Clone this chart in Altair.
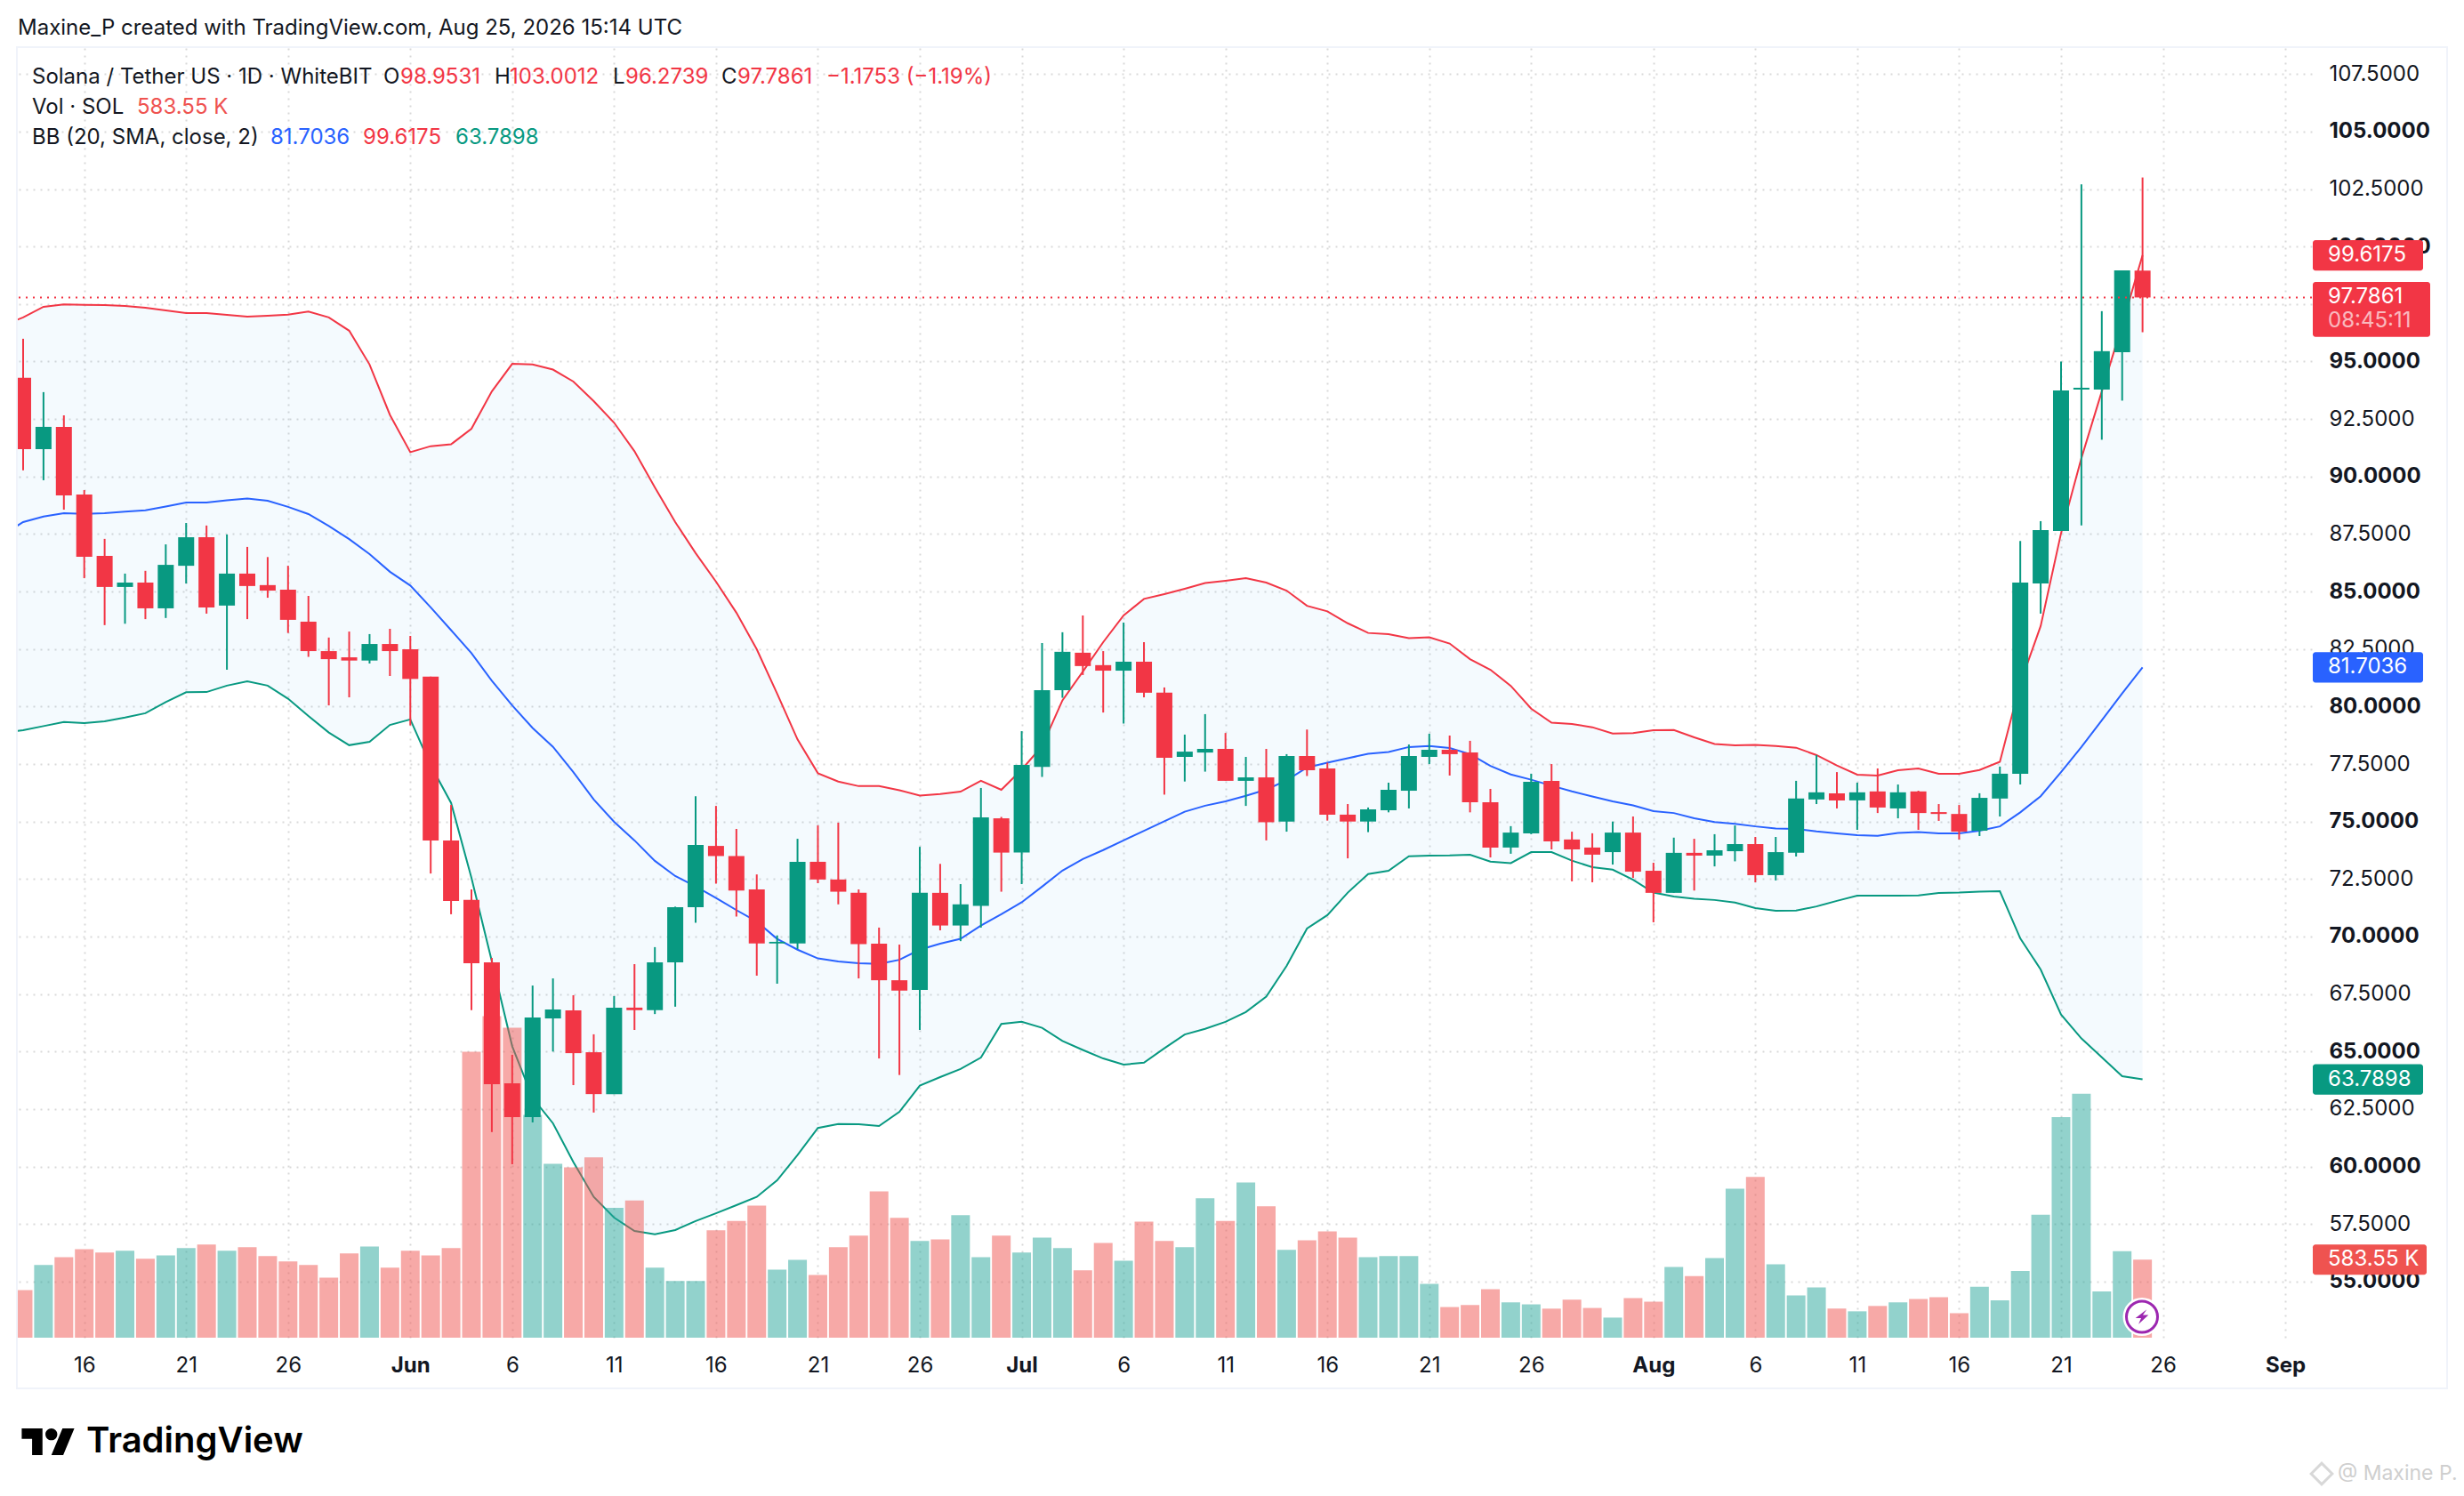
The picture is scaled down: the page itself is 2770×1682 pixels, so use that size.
import altair as alt
import pandas as pd

opens = [94.29,91.19,92.16,89.22,86.55,85.20,85.39,84.27,86.12,87.36,84.39,85.78,85.28,85.08,83.69,82.41,82.14,82.00,82.72,82.49,
81.30,74.18,71.59,68.88,63.62,62.15,66.44,66.79,64.97,63.15,66.91,66.80,68.88,71.28,73.94,73.50,72.05,69.70,69.70,73.25,
72.48,71.90,69.69,68.10,67.68,71.90,70.48,71.33,75.14,73.65,77.38,80.71,82.34,81.80,81.56,81.95,80.60,77.81,78.00,78.16,
76.77,76.92,75.00,77.85,77.31,75.30,75.00,75.49,76.34,77.81,78.12,78.00,75.84,73.87,74.49,76.77,74.22,73.87,73.67,74.52,
72.86,71.90,73.64,73.52,73.71,74.02,72.67,73.64,75.96,76.23,75.92,76.31,75.57,76.31,75.41,75.33,74.60,76.00,77.08,85.35,
87.63,93.78,93.78,95.41,98.9531]
closes = [91.19,92.16,89.18,86.51,85.20,85.39,84.27,86.16,87.36,84.31,85.78,85.24,85.04,83.77,82.41,82.06,82.00,82.72,82.41,81.20,
74.18,71.55,68.84,63.58,62.15,66.48,66.83,64.93,63.15,66.91,66.80,68.88,71.28,73.98,73.50,72.00,69.70,69.77,73.25,72.48,
71.95,69.67,68.10,67.65,71.90,70.48,71.40,75.18,73.65,77.46,80.71,82.38,81.76,81.56,81.95,80.60,77.77,78.04,78.16,76.77,
76.92,74.97,77.85,77.23,75.30,75.00,75.53,76.38,77.85,78.12,77.93,75.84,73.87,74.52,76.73,74.14,73.79,73.56,74.52,72.82,
71.90,73.64,73.52,73.75,74.02,72.67,73.67,76.00,76.27,75.92,76.27,75.61,76.27,75.37,75.33,74.56,76.03,77.08,85.39,87.67,
93.74,93.86,95.45,98.96,97.7861]
highs = [95.99,93.67,92.66,89.41,87.29,85.78,85.90,87.05,87.98,87.87,87.48,86.94,86.50,86.12,84.81,83.00,83.26,83.15,83.38,83.07,
81.30,75.72,72.05,69.07,64.86,67.87,68.18,67.45,65.75,67.41,68.80,69.54,71.30,76.10,75.68,74.68,72.70,70.05,74.25,74.83,
74.95,72.05,70.39,69.65,73.90,73.16,72.28,76.46,75.20,78.93,82.76,83.23,83.96,82.41,83.65,82.80,80.83,78.78,79.67,78.85,
77.81,78.16,77.93,79.00,77.56,75.76,75.61,76.69,78.35,78.82,78.74,78.51,76.42,74.80,77.08,77.50,74.56,74.49,75.00,75.22,
73.21,74.30,74.25,74.45,74.83,74.33,74.33,76.77,77.89,77.15,76.69,77.31,76.61,76.34,75.76,75.72,76.23,77.39,87.20,88.06,
95.00,102.70,97.19,98.96,103.0012]
lows = [90.27,89.84,88.56,85.58,83.54,83.60,83.80,83.85,85.35,84.04,81.60,83.80,84.73,83.20,82.16,80.05,80.40,81.87,81.33,79.18,
72.74,70.97,66.80,61.50,60.10,61.92,65.00,63.54,62.35,63.15,65.94,66.63,66.95,70.60,72.30,70.87,68.30,67.95,69.46,72.32,
71.40,68.18,64.70,63.98,65.94,70.27,69.80,70.39,71.95,72.28,76.94,80.38,81.37,79.74,79.26,80.40,76.17,76.74,77.17,76.77,
75.68,74.18,74.56,76.98,75.04,73.40,74.54,75.40,75.57,77.50,77.00,75.40,73.44,73.60,74.45,73.79,72.40,72.36,73.13,72.55,
70.62,71.90,72.00,73.05,73.27,72.36,72.44,73.48,75.76,75.57,74.64,75.37,75.14,74.64,75.03,74.22,74.37,75.22,76.61,84.04,
87.63,87.87,91.60,93.30,96.2739]
volumes = [355,543,602,661,636,649,590,614,669,696,649,676,609,570,543,449,629,681,523,649,
614,669,2136,2403,2317,1665,1300,1273,1347,970,1026,523,424,424,802,873,987,508,582,469,
676,762,1093,896,723,735,915,602,762,636,747,669,503,708,575,868,723,676,1041,873,
1159,982,656,728,794,747,602,609,609,402,229,244,363,264,249,217,284,222,150,296,
269,528,461,595,1113,1201,548,316,375,217,197,237,264,289,303,183,380,279,498,919,
1648,1822,346,646,583.55]

# Bollinger bands; the first value belongs to the day before the first candle, just off the left edge
bb_upper = [96.56,96.92,97.38,97.48,97.46,97.45,97.42,97.34,97.22,97.11,97.11,97.03,96.95,96.99,97.04,97.17,96.92,96.34,94.87,92.68,91.06,
91.32,91.40,92.08,93.70,94.90,94.87,94.65,94.13,93.28,92.34,91.10,89.53,88.02,86.67,85.43,84.08,82.49,80.56,78.57,77.10,
76.74,76.54,76.54,76.36,76.13,76.20,76.30,76.77,76.38,77.26,78.28,80.27,81.52,82.80,83.96,84.68,84.89,85.12,85.37,85.47,
85.58,85.39,85.04,84.38,84.14,83.62,83.20,83.15,82.97,83.01,82.74,82.06,81.60,80.90,79.91,79.30,79.24,79.10,78.83,78.85,
78.97,78.98,78.66,78.37,78.31,78.33,78.28,78.21,77.89,77.44,77.04,77.00,77.23,77.31,77.08,77.08,77.24,77.60,81.00,83.50,
87.53,90.80,93.70,96.60,99.6175]
bb_middle = [87.47,88.02,88.26,88.41,88.38,88.41,88.47,88.53,88.70,88.87,88.87,88.97,89.04,88.95,88.68,88.37,87.85,87.28,86.63,85.86,85.26,
84.31,83.32,82.32,81.12,80.05,79.07,78.25,77.15,75.96,74.99,74.18,73.29,72.63,72.18,71.68,71.15,70.65,69.90,69.43,69.05,
68.92,68.84,68.81,68.99,69.43,69.69,69.90,70.48,70.97,71.49,72.17,72.87,73.37,73.76,74.18,74.60,75.01,75.43,75.69,75.88,
76.12,76.39,76.79,77.35,77.56,77.75,77.95,78.02,78.24,78.28,78.20,77.93,77.42,77.05,76.82,76.56,76.31,76.09,75.88,75.70,
75.45,75.37,75.14,74.98,74.90,74.79,74.70,74.68,74.57,74.49,74.41,74.38,74.50,74.54,74.49,74.49,74.60,74.79,75.40,76.10,
77.15,78.24,79.40,80.57,81.7036]
bb_lower = [78.87,78.97,79.15,79.33,79.28,79.36,79.52,79.71,80.19,80.62,80.63,80.91,81.10,80.91,80.34,79.59,78.87,78.32,78.47,79.20,79.44,
77.44,75.81,72.55,68.93,65.23,62.99,61.88,60.20,58.68,57.78,57.20,57.06,57.24,57.63,57.97,58.32,58.68,59.40,60.50,61.68,
61.85,61.84,61.76,62.38,63.52,63.89,64.24,64.74,66.20,66.30,66.03,65.46,65.07,64.70,64.43,64.52,65.14,65.74,65.99,66.29,
66.72,67.39,68.72,70.35,70.93,71.91,72.72,72.86,73.49,73.52,73.53,73.56,73.26,73.19,73.67,73.67,73.30,73.02,72.91,72.47,
71.91,71.74,71.64,71.59,71.48,71.24,71.12,71.13,71.31,71.55,71.78,71.78,71.78,71.79,71.89,71.91,71.95,71.97,69.92,68.57,
66.61,65.57,64.75,63.93,63.7898]

price_ticks = [55,57.5,60,62.5,65,67.5,70,72.5,75,77.5,80,82.5,85,87.5,90,92.5,95,97.5,100,102.5,105,107.5]
date_ticks = ["2026-05-16","2026-05-21","2026-05-26","2026-06-01","2026-06-06","2026-06-11","2026-06-16","2026-06-21","2026-06-26",
              "2026-07-01","2026-07-06","2026-07-11","2026-07-16","2026-07-21","2026-07-26","2026-08-01","2026-08-06","2026-08-11",
              "2026-08-16","2026-08-21","2026-08-26","2026-09-01"]

RED, GREEN, BLUE, VOLRED, VOLGREEN = "#f23645", "#089981", "#2962ff", "#ef5350", "#26a69a"
INK, FONT = "#131722", "Inter"
GRID = "#d9d9d9"
W, H = 2579, 1450
PRICE_DOMAIN = [52.56, 108.63]
VOL_DOMAIN = [0, 9637]
X_DOMAIN = ["2026-05-12T17:44:00Z", "2026-09-02T07:26:00Z"]

days = pd.date_range("2026-05-12", periods=106).strftime("%Y-%m-%d").tolist()
candles = pd.DataFrame({"date": days[1:], "open": opens, "close": closes, "high": highs, "low": lows, "vol": volumes})
candles["dir"] = ["up" if c >= o else "down" for o, c in zip(opens, closes)]
bands = pd.DataFrame({"date": days, "upper": bb_upper, "middle": bb_middle, "lower": bb_lower})

x_axis = alt.Axis(values=date_ticks, title=None, domain=False, ticks=False, grid=True, gridColor=GRID, gridDash=[2, 6], gridWidth=2,
                  labelFont=FONT, labelFontSize=24, labelColor=INK, labelPadding=19, labelOverlap=False, labelFlush=False,
                  labelExpr="utcdate(datum.value) == 1 ? utcFormat(datum.value, '%b') : utcFormat(datum.value, '%-d')",
                  labelFontWeight={"condition": {"test": "utcdate(datum.value) == 1", "value": 700}, "value": 400})
y_axis = alt.Axis(values=price_ticks, title=None, orient="right", domain=False, ticks=False, grid=True, gridColor=GRID, gridDash=[2, 6], gridWidth=2,
                  labelFont=FONT, labelFontSize=24, labelColor=INK, labelPadding=19, labelAlign="left", labelOverlap=False, labelFlush=False,
                  labelExpr="format(datum.value, '.4f')",
                  labelFontWeight={"condition": {"test": "datum.value % 5 === 0", "value": 700}, "value": 400})
xs = alt.X("date:T", scale=alt.Scale(type="utc", domain=X_DOMAIN, padding=0), axis=x_axis)


def py(field, axis=None):
    return alt.Y(f"{field}:Q", scale=alt.Scale(domain=PRICE_DOMAIN, nice=False, zero=False, padding=0), axis=axis)


band = alt.Chart(bands).mark_area(color="#2196f3", opacity=0.05, clip=True).encode(x=xs, y=py("upper", y_axis), y2="lower:Q")
lines = [alt.Chart(bands).mark_line(color=c, strokeWidth=2, clip=True).encode(x=xs, y=py(f))
         for f, c in (("upper", RED), ("middle", BLUE), ("lower", GREEN))]

vol = alt.Chart(candles).mark_bar(width=21, opacity=0.5, clip=True).encode(
    x=xs,
    y=alt.Y("vol:Q", scale=alt.Scale(domain=VOL_DOMAIN, nice=False, padding=0), axis=None),
    color=alt.Color("dir:N", scale=alt.Scale(domain=["up", "down"], range=[VOLGREEN, VOLRED]), legend=None))
candle_color = alt.Color("dir:N", scale=alt.Scale(domain=["up", "down"], range=[GREEN, RED]), legend=None)
wicks = alt.Chart(candles).mark_rule(strokeWidth=2, clip=True).encode(x=xs, y=py("low"), y2="high:Q", color=candle_color)
bodies = alt.Chart(candles).mark_bar(width=18, clip=True).encode(x=xs, y=py("open"), y2="close:Q", color=candle_color)

last_line = alt.Chart(pd.DataFrame({"p": [closes[-1]]})).mark_rule(color=RED, strokeWidth=2, strokeDash=[2, 6]).encode(y=py("p"))

one = pd.DataFrame({"a": [0]})
border = alt.Chart(one).mark_rect(fillOpacity=0, stroke="#f0f3fa", strokeWidth=2).encode(
    x=alt.value(-1), x2=alt.value(2731), y=alt.value(-1), y2=alt.value(1507))


def label(text, px, py_, color=INK, size=24, weight=400, opacity=1):
    return alt.Chart(pd.DataFrame({"t": [text]})).mark_text(
        align="left", baseline="middle", font=FONT, fontSize=size, fontWeight=weight, color=color, opacity=opacity
    ).encode(text="t:N", x=alt.value(px - 20), y=alt.value(py_ - 54))


header_texts = [
    ("Maxine_P created with TradingView.com, Aug 25, 2026 15:14 UTC", 20, 32, INK),
    ("Solana / Tether US · 1D · WhiteBIT", 36, 87, INK),
    ("O", 431, 87, INK), ("98.9531", 450, 87, RED),
    ("H", 556, 87, INK), ("103.0012", 573, 87, RED),
    ("L", 689, 87, INK), ("96.2739", 703, 87, RED),
    ("C", 811, 87, INK), ("97.7861", 829, 87, RED),
    ("−1.1753 (−1.19%)", 929, 87, RED),
    ("Vol · SOL", 36, 121, INK), ("583.55 K", 154, 121, VOLRED),
    ("BB (20, SMA, close, 2)", 36, 155, INK),
    ("81.7036", 304, 155, BLUE), ("99.6175", 408, 155, RED), ("63.7898", 512, 155, GREEN),
]
texts = [label(t, x, y, c) for t, x, y, c in header_texts]

# price tags on the right-hand axis
tag_values = [99.6175, 81.7036, 63.7898]
tag_labels = ["99.6175", "81.7036", "63.7898"]
tag_colors = [RED, BLUE, GREEN]
tags = []
for v, s, c in zip(tag_values, tag_labels, tag_colors):
    d = pd.DataFrame({"v": [v], "lo": [v - 0.66], "hi": [v + 0.66], "t": [s]})
    tags.append(alt.Chart(d).mark_rect(color=c, cornerRadius=3).encode(x=alt.value(2580), x2=alt.value(2704), y=py("lo"), y2="hi:Q"))
    tags.append(alt.Chart(d).mark_text(align="left", baseline="middle", font=FONT, fontSize=24, color="white").encode(
        text="t:N", x=alt.value(2597), y=py("v")))

last_tag = pd.DataFrame({"lo": [96.07], "hi": [98.46], "v1": [closes[-1]], "v2": [96.74], "t1": ["97.7861"], "t2": ["08:45:11"]})
tags.append(alt.Chart(last_tag).mark_rect(color=RED, cornerRadius=3).encode(x=alt.value(2580), x2=alt.value(2712), y=py("lo"), y2="hi:Q"))
tags.append(alt.Chart(last_tag).mark_text(align="left", baseline="middle", font=FONT, fontSize=24, color="white").encode(
    text="t1:N", x=alt.value(2597), y=py("v1")))
tags.append(alt.Chart(last_tag).mark_text(align="left", baseline="middle", font=FONT, fontSize=24, color="white", opacity=0.65).encode(
    text="t2:N", x=alt.value(2597), y=py("v2")))

vy = alt.Y("v:Q", scale=alt.Scale(domain=VOL_DOMAIN, nice=False, padding=0), axis=None)
vtag = pd.DataFrame({"v": [volumes[-1]], "lo": [volumes[-1] - 113], "hi": [volumes[-1] + 113], "t": ["583.55 K"]})
tags.append(alt.Chart(vtag).mark_rect(color=VOLRED, cornerRadius=3).encode(
    x=alt.value(2580), x2=alt.value(2708), y=alt.Y("lo:Q", scale=alt.Scale(domain=VOL_DOMAIN, nice=False, padding=0), axis=None), y2="hi:Q"))
tags.append(alt.Chart(vtag).mark_text(align="left", baseline="middle", font=FONT, fontSize=24, color="white").encode(
    text="t:N", x=alt.value(2597), y=vy))

# purple bolt badge
BOLT = "M0.55 -0.85 L-0.75 0.15 L-0.1 0.15 L-0.4 0.85 L0.75 -0.2 L0.1 -0.2 Z"
badge = [
    alt.Chart(one).mark_point(shape="circle", filled=True, color="white", size=1850, opacity=1).encode(x=alt.value(2388), y=alt.value(1426.5)),
    alt.Chart(one).mark_point(shape="circle", filled=False, color="#9c27b0", size=1225, strokeWidth=3, opacity=1).encode(x=alt.value(2388), y=alt.value(1426.5)),
    alt.Chart(one).mark_point(shape=BOLT, filled=True, color="#9c27b0", size=380, opacity=1, strokeWidth=0).encode(x=alt.value(2388), y=alt.value(1426.5)),
]

# TradingView logo
LOGO = ("M-0.2083 0.5 H-0.5972 V-0.1111 H-0.9861 V-0.5 H-0.2083 Z "
        "M0.5694 0.5 H0.125 L0.5417 -0.5 H0.9861 Z "
        "M-0.0972 -0.2778 a0.2222 0.2222 0 1 0 0.4444 0 a0.2222 0.2222 0 1 0 -0.4444 0 Z")
logo = [
    alt.Chart(one).mark_point(shape=LOGO, filled=True, color="#000000", size=3600, opacity=1, strokeWidth=0).encode(x=alt.value(34), y=alt.value(1567)),
    label("TradingView", 97, 1621, "#000000", 40, 600),
]

# watermark
watermark = [
    alt.Chart(one).mark_point(shape="diamond", filled=False, color="#d8d8d8", size=560, strokeWidth=3, opacity=1).encode(x=alt.value(2590), y=alt.value(1603)),
    label("@ Maxine P.", 2628, 1657, "#cfcfcf", 23),
]

chart = alt.layer(band, *lines, vol, wicks, bodies, last_line, border, *tags, *badge, *texts, *logo, *watermark).resolve_scale(
    y="independent", color="independent"
).properties(
    width=W, height=H, background="white",
    autosize=alt.AutoSizeParams(type="none"),
    padding={"left": 12, "top": 46, "right": 163, "bottom": 168},
).configure_view(strokeWidth=0)

chart.save("out.html", embed_options={"renderer": "svg", "actions": False})
